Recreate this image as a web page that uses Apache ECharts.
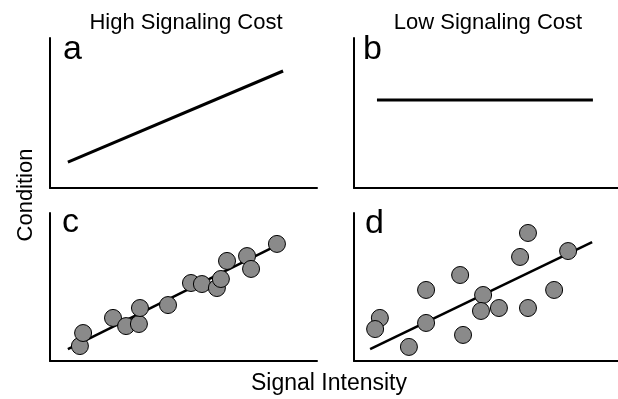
<!DOCTYPE html>
<html>
<head>
<meta charset="utf-8">
<script src="https://cdn.jsdelivr.net/npm/echarts@6/dist/echarts.min.js"></script>
<style>html,body{margin:0;padding:0;background:#fff}#c{width:618px;height:399px}</style>
</head>
<body>
<div id="c"></div>
<script>
// Panel titles and axis names
var columnTitles = ['High Signaling Cost', 'Low Signaling Cost'];
var panelLetters = ['a', 'b', 'c', 'd'];
var xAxisName = 'Signal Intensity';
var yAxisName = 'Condition';

// Panel a: line (x, y) in 0-100 units
var lineA = [[6.7, 17.3], [87.3, 78.0]];
// Panel b: flat line
var lineB = [[8.7, 58.7], [90.5, 58.7]];
// Panel c: tight scatter + fit
var pointsC = [
  [11.2, 10.1], [12.4, 18.9], [23.6, 29.1], [28.5, 23.6], [33.3, 25.0],
  [33.7, 35.8], [44.2, 37.8], [52.8, 52.7], [56.9, 52.0], [62.5, 49.3],
  [64.0, 55.4], [66.3, 67.6], [73.8, 70.9], [75.3, 62.2], [85.0, 79.1]
];
var lineC = [[6.7, 8.1], [83.1, 76.4]];
// Panel d: loose scatter + fit
var pointsD = [
  [9.8, 29.1], [8.0, 21.6], [20.8, 9.5], [27.3, 25.7], [27.3, 48.0],
  [40.2, 58.1], [41.3, 17.6], [48.9, 44.6], [48.1, 33.8], [54.9, 35.8],
  [62.9, 70.3], [65.9, 86.5], [65.9, 35.8], [75.8, 48.0], [81.1, 74.3]
];
var lineD = [[6.1, 8.1], [90.2, 80.4]];

var FONT = 'Liberation Sans, Arial, Helvetica, sans-serif';
var chart = echarts.init(document.getElementById('c'), null, {renderer: 'canvas'});

var grids = [
  {left: 50, top: 38, width: 267, height: 150},
  {left: 354, top: 38, width: 264, height: 150},
  {left: 50, top: 213, width: 267, height: 148},
  {left: 354, top: 213, width: 264, height: 148}
];
function axis(i) {
  return {
    type: 'value', gridIndex: i, min: 0, max: 100,
    axisLine: {show: true, onZero: false, lineStyle: {color: '#000', width: 2}},
    axisTick: {show: false}, axisLabel: {show: false}, splitLine: {show: false}
  };
}
var xAxes = [], yAxes = [];
for (var i = 0; i < 4; i++) { xAxes.push(axis(i)); yAxes.push(axis(i)); }

function lineSeries(i, data, w) {
  return {type: 'line', xAxisIndex: i, yAxisIndex: i, data: data, symbol: 'none',
    lineStyle: {color: '#000', width: w}, z: 2, animation: false};
}
function scatterSeries(i, data) {
  return {type: 'scatter', xAxisIndex: i, yAxisIndex: i, data: data, symbolSize: 17,
    itemStyle: {color: '#8a8a8a', borderColor: '#000', borderWidth: 1, opacity: 1}, z: 3, animation: false};
}

var letterPos = [[63, 53], [363, 53], [62, 226], [365, 227]];
var graphic = [];
for (var k = 0; k < 4; k++) {
  graphic.push({type: 'text', left: letterPos[k][0], top: letterPos[k][1] - 20,
    style: {text: panelLetters[k], font: '34px ' + FONT, fill: '#000'}});
}
graphic.push({type: 'text', x: 186, y: 23, style: {text: columnTitles[0], font: '22px ' + FONT, fill: '#000', textAlign: 'center', textVerticalAlign: 'middle'}});
graphic.push({type: 'text', x: 488, y: 23, style: {text: columnTitles[1], font: '22px ' + FONT, fill: '#000', textAlign: 'center', textVerticalAlign: 'middle'}});
graphic.push({type: 'text', x: 329, y: 384, style: {text: xAxisName, font: '23px ' + FONT, fill: '#000', textAlign: 'center', textVerticalAlign: 'middle'}});
graphic.push({type: 'text', x: 26, y: 195, rotation: Math.PI / 2, style: {text: yAxisName, font: '22px ' + FONT, fill: '#000', textAlign: 'center', textVerticalAlign: 'middle'}});

chart.setOption({
  animation: false,
  grid: grids,
  xAxis: xAxes,
  yAxis: yAxes,
  graphic: graphic,
  series: [
    lineSeries(0, lineA, 3),
    lineSeries(1, lineB, 3),
    lineSeries(2, lineC, 2.5),
    scatterSeries(2, pointsC),
    lineSeries(3, lineD, 2.5),
    scatterSeries(3, pointsD)
  ]
});
</script>
</body>
</html>
